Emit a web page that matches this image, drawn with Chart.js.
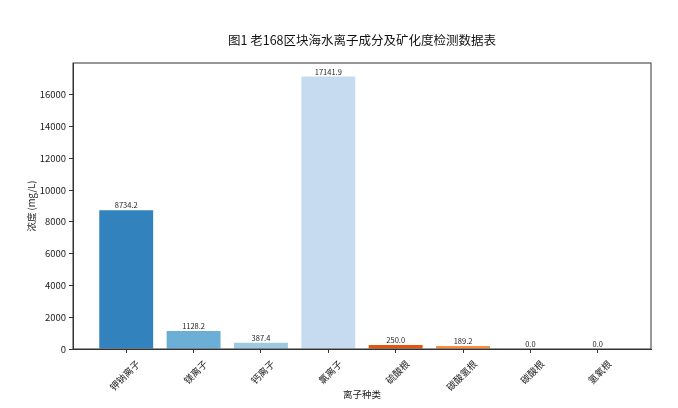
<!DOCTYPE html>
<html lang="zh">
<head>
    <meta charset="UTF-8">
    <title>图1 老168区块海水离子成分及矿化度检测数据表</title>
    <script src="https://cdn.jsdelivr.net/npm/chart.js"></script>
    <style>
        html, body { margin: 0; padding: 0; background: white; }
        #wrap { width: 678px; height: 408px; }
    </style>
</head>
<body>
    <div id="wrap"><canvas id="barChart"></canvas></div>
    <script>
        const ionLabels = ["钾钠离子", "镁离子", "钙离子", "氯离子", "硫酸根", "碳酸氢根", "碳酸根", "氢氧根"];
        const ionValues = [8734.2, 1128.2, 387.4, 17141.9, 250.0, 189.2, 0.0, 0.0];
        const barColors = ["#3182bd", "#6baed6", "#9ecae1", "#c6dbef", "#e6550d", "#fd8d3c", "#fdae6b", "#fdd0a2"];
        const yTicks = [0, 2000, 4000, 6000, 8000, 10000, 12000, 14000, 16000];

        const fontFamily = "'Noto Sans CJK SC', 'Noto Sans', sans-serif";
        const axisColor = "#333";

        // value labels above bars + box around the plot
        const extras = {
            id: "extras",
            afterDatasetsDraw(chart) {
                const { ctx, chartArea, scales } = chart;
                ctx.save();
                ctx.strokeStyle = axisColor;
                ctx.lineWidth = 1;
                ctx.strokeRect(chartArea.left, chartArea.top, chartArea.right - chartArea.left, chartArea.bottom - chartArea.top);
                ctx.fillStyle = "#222";
                ctx.font = "7.5px " + fontFamily;
                ctx.textAlign = "center";
                ctx.textBaseline = "bottom";
                ionValues.forEach((v, i) => {
                    const x = scales.x.getPixelForValue(i);
                    const y = scales.y.getPixelForValue(v);
                    ctx.fillText(v.toFixed(1), x, y - 1);
                });
                ctx.restore();
            }
        };

        new Chart(document.getElementById("barChart"), {
            type: "bar",
            data: {
                datasets: [{
                    data: ionValues.map((v, i) => ({ x: i, y: v })),
                    backgroundColor: barColors,
                    borderWidth: 0,
                    barPercentage: 0.8,
                    categoryPercentage: 1.0,
                }],
            },
            options: {
                responsive: true,
                maintainAspectRatio: false,
                animation: false,
                layout: { padding: { left: 0, right: 27, top: 0, bottom: 0 } },
                plugins: {
                    legend: { display: false },
                    tooltip: { enabled: false },
                    title: {
                        display: true,
                        fullSize: false,
                        text: "图1 老168区块海水离子成分及矿化度检测数据表",
                        color: "#111",
                        font: { family: fontFamily, size: 12.5, weight: "normal" },
                        padding: { top: 33, bottom: 15 },
                    },
                },
                scales: {
                    x: {
                        type: "linear",
                        offset: false,
                        min: -0.79,
                        max: 7.79,
                        afterBuildTicks(scale) {
                            scale.ticks = ionLabels.map((_, i) => ({ value: i }));
                        },
                        afterFit(scale) { scale.height = 59; },
                        grid: { offset: false, drawOnChartArea: false, drawTicks: true, tickLength: 4, color: axisColor },
                        border: { color: axisColor },
                        ticks: {
                            color: "#222",
                            font: { family: fontFamily, size: 9.5 },
                            minRotation: 45,
                            maxRotation: 45,
                            padding: 5,
                            labelOffset: 12,
                            autoSkip: false,
                            callback: (v) => ionLabels[v],
                        },
                        title: {
                            display: true,
                            text: "离子种类",
                            color: "#222",
                            font: { family: fontFamily, size: 9.5 },
                            padding: { top: 0, bottom: 8 },
                        },
                    },
                    y: {
                        min: 0,
                        max: 17998.995,
                        afterBuildTicks(scale) {
                            scale.ticks = yTicks.map(v => ({ value: v }));
                        },
                        afterFit(scale) { scale.width = 73; },
                        grid: { drawOnChartArea: false, drawTicks: true, tickLength: 4, color: axisColor },
                        border: { color: axisColor },
                        ticks: {
                            color: "#222",
                            font: { family: fontFamily, size: 9.5 },
                            padding: 3,
                            callback: (v) => String(v),
                        },
                        title: {
                            display: true,
                            text: "浓度 (mg/L)",
                            color: "#222",
                            font: { family: fontFamily, size: 9.5 },
                            padding: { top: 26, bottom: 4 },
                        },
                    },
                },
            },
            plugins: [extras],
        });
    </script>
</body>
</html>
